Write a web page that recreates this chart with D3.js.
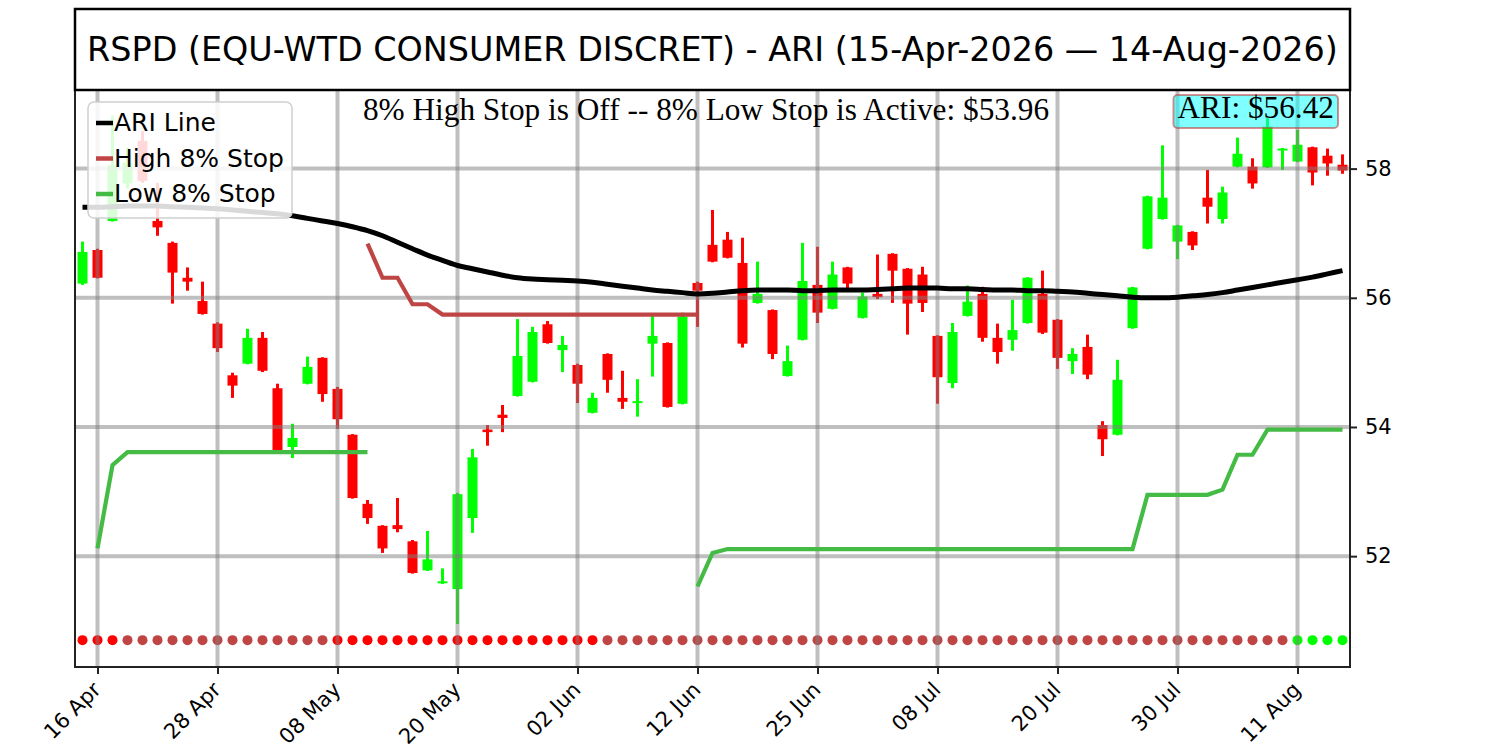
<!DOCTYPE html>
<html>
<head>
<meta charset="utf-8">
<script src="https://cdn.jsdelivr.net/npm/d3@7"></script>
<style>
  body { margin: 0; background: #fff; }
  svg { display: block; }
</style>
</head>
<body>
<svg></svg>
<script>
// trading day index 0 = 15-Apr-2026, last = 14-Aug-2026
const tickIndex = [1, 9, 17, 25, 33, 41, 49, 57, 65, 73, 81];
const tickLabels = ["16 Apr", "28 Apr", "08 May", "20 May", "02 Jun", "12 Jun",
                    "25 Jun", "08 Jul", "20 Jul", "30 Jul", "11 Aug"];
const priceTicks = [52, 54, 56, 58];

const openPx = [56.22, 56.74, 57.19, 57.77, 58.43, 57.19, 56.85, 56.31, 55.95, 55.60,
              54.80, 54.98, 55.38, 54.60, 53.69, 54.67, 55.07, 54.59, 53.88, 52.81,
              52.47, 52.48, 52.23, 51.78, 51.58, 51.49, 52.59, 53.96, 54.19, 54.48,
              54.70, 55.59, 55.19, 54.96, 54.22, 55.13, 54.45, 54.37, 55.29, 55.30,
              54.36, 56.23, 56.82, 56.90, 56.54, 55.92, 55.81, 54.79, 55.35, 56.20,
              55.83, 56.47, 55.69, 56.06, 56.68, 56.45, 56.36, 55.41, 54.68, 55.72,
              56.06, 55.38, 55.35, 55.61, 56.06, 55.66, 55.02, 55.24, 54.03, 53.88,
              55.53, 56.76, 57.22, 56.87, 57.02, 57.55, 57.22, 58.03, 58.03, 58.02,
              58.28, 58.11, 58.33, 58.20, 58.06];
const highPx = [56.87, 56.76, 58.82, 58.33, 58.58, 57.78, 56.87, 56.47, 56.25, 55.62,
              54.84, 55.52, 55.47, 54.67, 54.05, 55.09, 55.08, 54.62, 53.89, 52.87,
              52.48, 52.90, 52.25, 52.39, 51.81, 52.98, 53.66, 54.03, 54.34, 55.67,
              55.55, 55.64, 55.41, 54.98, 54.53, 55.14, 54.87, 54.74, 55.74, 55.31,
              55.77, 56.25, 57.36, 57.02, 56.93, 56.56, 55.82, 55.26, 56.85, 56.79,
              56.56, 56.48, 56.08, 56.67, 56.69, 56.46, 56.48, 55.42, 55.61, 56.19,
              56.17, 55.60, 55.97, 56.32, 56.42, 55.67, 55.22, 55.43, 54.09, 55.04,
              56.17, 57.58, 58.36, 57.13, 57.03, 57.98, 57.72, 58.48, 58.16, 58.78,
              58.32, 58.60, 58.34, 58.31, 58.22];
const lowPx = [56.20, 56.30, 57.18, 57.69, 57.78, 56.96, 55.91, 56.11, 55.74, 55.16,
             54.45, 54.97, 54.85, 53.62, 53.52, 54.66, 54.39, 53.97, 52.89, 52.50,
             52.05, 52.37, 51.73, 51.77, 51.57, 50.95, 52.36, 53.71, 53.92, 54.47,
             54.69, 55.29, 54.85, 54.37, 54.21, 54.53, 54.28, 54.16, 54.78, 54.30,
             54.35, 55.55, 56.55, 56.61, 55.23, 55.91, 55.05, 54.78, 55.34, 55.61,
             55.82, 56.09, 55.68, 55.98, 55.92, 55.43, 55.78, 54.36, 54.60, 55.71,
             55.32, 54.98, 55.18, 55.60, 55.44, 54.90, 54.82, 54.74, 53.55, 53.87,
             55.52, 56.75, 57.21, 56.60, 56.74, 57.15, 57.15, 58.02, 57.69, 58.01,
             57.98, 58.10, 57.74, 57.89, 57.92];
const closePx = [56.71, 56.31, 58.05, 58.09, 57.81, 57.09, 56.39, 56.25, 55.75, 55.22,
               54.64, 55.38, 54.87, 53.64, 53.83, 54.93, 54.51, 54.12, 52.90, 52.59,
               52.12, 52.42, 51.74, 51.95, 51.61, 52.96, 53.53, 53.92, 54.14, 55.10,
               55.47, 55.30, 55.27, 54.67, 54.45, 54.73, 54.39, 54.40, 55.41, 54.31,
               55.71, 56.11, 56.56, 56.62, 55.29, 56.06, 55.13, 55.02, 56.26, 55.77,
               56.36, 56.22, 56.02, 56.01, 56.42, 55.91, 55.92, 54.77, 55.47, 55.94,
               55.38, 55.16, 55.50, 56.31, 55.46, 55.07, 55.13, 54.81, 53.81, 54.73,
               56.16, 57.57, 57.55, 57.12, 56.81, 57.41, 57.63, 58.23, 57.77, 58.65,
               58.31, 58.37, 57.94, 58.08, 57.97];

const ariLine = [57.40, 57.40, 57.41, 57.42, 57.42, 57.42, 57.41, 57.40, 57.39, 57.38,
                 57.36, 57.34, 57.32, 57.30, 57.27, 57.23, 57.19, 57.15, 57.10, 57.04,
                 56.96, 56.86, 56.76, 56.66, 56.58, 56.50, 56.45, 56.40, 56.35, 56.31,
                 56.29, 56.28, 56.27, 56.26, 56.24, 56.21, 56.18, 56.15, 56.12, 56.10,
                 56.08, 56.06, 56.07, 56.09, 56.11, 56.12, 56.12, 56.12, 56.11, 56.11,
                 56.12, 56.12, 56.12, 56.13, 56.14, 56.15, 56.15, 56.15, 56.14, 56.14,
                 56.13, 56.12, 56.12, 56.11, 56.11, 56.10, 56.09, 56.07, 56.05, 56.03,
                 56.01, 56.00, 56.00, 56.01, 56.03, 56.05, 56.08, 56.12, 56.16, 56.20,
                 56.24, 56.28, 56.32, 56.37, 56.42];

const n = null;
const highStop = [n, n, n, n, n, n, n, n, n, n,
                  n, n, n, n, n, n, n, n, n, 56.84,
                  56.31, 56.31, 55.90, 55.90, 55.74, 55.74, 55.74, 55.74, 55.74, 55.74,
                  55.74, 55.74, 55.74, 55.74, 55.74, 55.74, 55.74, 55.74, 55.74, 55.74,
                  55.74, 55.74, n, n, n, n, n, n, n, n,
                  n, n, n, n, n, n, n, n, n, n,
                  n, n, n, n, n, n, n, n, n, n,
                  n, n, n, n, n, n, n, n, n, n,
                  n, n, n, n, n];
const lowStop = [n, 52.12, 53.41, 53.61, 53.61, 53.61, 53.61, 53.61, 53.61, 53.61,
                 53.61, 53.61, 53.61, 53.61, 53.61, 53.61, 53.61, 53.61, 53.61, 53.61,
                 n, n, n, n, n, n, n, n, n, n,
                 n, n, n, n, n, n, n, n, n, n,
                 n, 51.53, 52.05, 52.11, 52.11, 52.11, 52.11, 52.11, 52.11, 52.11,
                 52.11, 52.11, 52.11, 52.11, 52.11, 52.11, 52.11, 52.11, 52.11, 52.11,
                 52.11, 52.11, 52.11, 52.11, 52.11, 52.11, 52.11, 52.11, 52.11, 52.11,
                 52.11, 52.95, 52.95, 52.95, 52.95, 52.95, 53.03, 53.57, 53.57, 53.96,
                 53.96, 53.96, 53.96, 53.96, 53.96];

// signal dots along the bottom: r = red, b = brown, g = green
const dotState = ["r","r","r","b","b","b","b","b","b","b",
                  "b","b","b","b","b","b","b","r","r","r",
                  "r","r","r","r","r","r","r","r","r","r",
                  "r","r","r","r","r","b","b","b","b","b",
                  "b","b","b","b","b","b","b","b","b","b",
                  "b","b","b","b","b","b","b","b","b","b",
                  "b","b","b","b","b","b","b","b","b","b",
                  "b","b","b","b","b","b","b","b","b","b",
                  "b","g","g","g","g"];
const dotLevel = 50.70;

const titleText = "RSPD (EQU-WTD CONSUMER DISCRET) - ARI (15-Apr-2026 \u2014 14-Aug-2026)";
const stopText = "8% High Stop is Off -- 8% Low Stop is Active: $53.96";
const ariText = "ARI: $56.42";

const upColor = "#00ff00", downColor = "#ff0000";
const highColor = "#bf4545", lowColor = "#44bb44";
const dotColors = { r: "#ff0000", b: "#bf4545", g: "#00ff00" };

const W = 1500, H = 750;
const m = { left: 75, right: 1350, top: 90, bottom: 667 };

const svg = d3.select("svg").attr("width", W).attr("height", H);

const x = d3.scaleLinear().domain([-0.5, openPx.length - 0.5]).range([m.left, m.right]);
const y = d3.scaleLinear().domain([50.284, 59.217]).range([m.bottom, m.top]);

const idx = d3.range(openPx.length);
const isUp = i => closePx[i] >= openPx[i];

// bottom dots
svg.append("g")
  .selectAll("circle")
  .data(idx)
  .enter()
  .append("circle")
  .attr("cx", i => x(i))
  .attr("cy", y(dotLevel))
  .attr("r", 5)
  .attr("fill", i => dotColors[dotState[i]]);

// candles
const candles = svg.append("g");
candles.selectAll("line")
  .data(idx)
  .enter()
  .append("line")
  .attr("x1", i => x(i)).attr("x2", i => x(i))
  .attr("y1", i => y(highPx[i])).attr("y2", i => y(lowPx[i]))
  .attr("stroke", i => isUp(i) ? upColor : downColor)
  .attr("stroke-width", 3);
candles.selectAll("rect")
  .data(idx)
  .enter()
  .append("rect")
  .attr("x", i => x(i) - 5)
  .attr("width", 10)
  .attr("y", i => y(Math.max(openPx[i], closePx[i])))
  .attr("height", i => Math.max(1.5, Math.abs(y(openPx[i]) - y(closePx[i]))))
  .attr("fill", i => isUp(i) ? upColor : downColor);

// grid (drawn over the candles, half transparent)
const grid = svg.append("g")
  .attr("stroke", "#808080")
  .attr("stroke-opacity", 0.5)
  .attr("stroke-width", 4);
grid.selectAll(".gx")
  .data(tickIndex)
  .enter()
  .append("line")
  .attr("x1", d => x(d)).attr("x2", d => x(d))
  .attr("y1", m.top).attr("y2", m.bottom);
grid.selectAll(".gy")
  .data(priceTicks)
  .enter()
  .append("line")
  .attr("x1", m.left).attr("x2", m.right)
  .attr("y1", d => y(d)).attr("y2", d => y(d));

// stops and ARI line
const line = d3.line()
  .defined(d => d != null)
  .x((d, i) => x(i))
  .y(d => y(d));

svg.append("path")
  .attr("d", line(highStop))
  .attr("fill", "none")
  .attr("stroke", highColor)
  .attr("stroke-width", 4.2);

svg.append("path")
  .attr("d", line(lowStop))
  .attr("fill", "none")
  .attr("stroke", lowColor)
  .attr("stroke-width", 4.2);

svg.append("path")
  .attr("d", line.curve(d3.curveMonotoneX)(ariLine))
  .attr("fill", "none")
  .attr("stroke", "#000")
  .attr("stroke-width", 5);

// axes
const yAxis = svg.append("g")
  .attr("transform", `translate(${m.right},0)`)
  .call(d3.axisRight(y).tickValues(priceTicks).tickSize(7).tickPadding(8));
yAxis.select(".domain").remove();
yAxis.selectAll("line").attr("stroke", "#222").attr("stroke-width", 2);
yAxis.selectAll("text")
  .attr("font-family", "DejaVu Sans")
  .attr("font-size", 21)
  .attr("fill", "#000");

const xAxis = svg.append("g")
  .attr("transform", `translate(0,${m.bottom})`)
  .call(d3.axisBottom(x).tickValues(tickIndex).tickFormat((d, i) => tickLabels[i]).tickSize(7));
xAxis.select(".domain").remove();
xAxis.selectAll("line").attr("stroke", "#222").attr("stroke-width", 2);
xAxis.selectAll("text")
  .attr("font-family", "DejaVu Sans")
  .attr("font-size", 21)
  .attr("fill", "#000")
  .attr("text-anchor", "end")
  .attr("dy", 0)
  .attr("y", 0)
  .attr("transform", "translate(4,24) rotate(-45)");

// spines
const spines = svg.append("g").attr("stroke", "#222").attr("stroke-width", 2);
spines.append("line").attr("x1", m.left).attr("x2", m.left).attr("y1", m.top).attr("y2", m.bottom + 1);
spines.append("line").attr("x1", m.right).attr("x2", m.right).attr("y1", m.top).attr("y2", m.bottom + 1);
spines.append("line").attr("x1", m.left - 1).attr("x2", m.right + 1).attr("y1", m.bottom).attr("y2", m.bottom);

// title box
svg.append("rect")
  .attr("x", m.left).attr("y", 9)
  .attr("width", m.right - m.left).attr("height", m.top - 9)
  .attr("fill", "none")
  .attr("stroke", "#000")
  .attr("stroke-width", 2.5);
svg.append("text")
  .attr("x", (m.left + m.right) / 2).attr("y", 61)
  .attr("text-anchor", "middle")
  .attr("font-family", "DejaVu Sans")
  .attr("font-size", 33.4)
  .text(titleText);

// stop status text
svg.append("text")
  .attr("x", 706).attr("y", 120)
  .attr("text-anchor", "middle")
  .attr("font-family", "Liberation Serif")
  .attr("font-size", 31.3)
  .text(stopText);

// ARI value label
const ariG = svg.append("g");
const ariBox = ariG.append("rect");
const ariLabel = ariG.append("text")
  .attr("x", 1334).attr("y", 118)
  .attr("text-anchor", "end")
  .attr("font-family", "Liberation Serif")
  .attr("font-size", 31.3)
  .text(ariText);
const bb = ariLabel.node().getBBox();
ariBox
  .attr("x", bb.x - 4).attr("y", 95)
  .attr("width", bb.width + 8).attr("height", 33)
  .attr("rx", 4)
  .attr("fill", "#00ffff").attr("fill-opacity", 0.5)
  .attr("stroke", "#bf4545").attr("stroke-opacity", 0.6)
  .attr("stroke-width", 2);

// legend
const legendItems = [
  { label: "ARI Line", color: "#000" },
  { label: "High 8% Stop", color: highColor },
  { label: "Low 8% Stop", color: lowColor }
];
const legend = svg.append("g");
legend.append("rect")
  .attr("x", 88).attr("y", 102)
  .attr("width", 204).attr("height", 116)
  .attr("rx", 6)
  .attr("fill", "#fff").attr("fill-opacity", 0.85)
  .attr("stroke", "#d0d0d0").attr("stroke-width", 1.5);
const rows = legend.selectAll(".row")
  .data(legendItems)
  .enter()
  .append("g")
  .attr("transform", (d, i) => `translate(0,${131 + i * 35.5})`);
rows.append("line")
  .attr("x1", 96).attr("x2", 113)
  .attr("y1", -8).attr("y2", -8)
  .attr("stroke", d => d.color)
  .attr("stroke-width", 4.5);
rows.append("text")
  .attr("x", 114)
  .attr("font-family", "DejaVu Sans")
  .attr("font-size", 25)
  .text(d => d.label);
</script>
</body>
</html>
